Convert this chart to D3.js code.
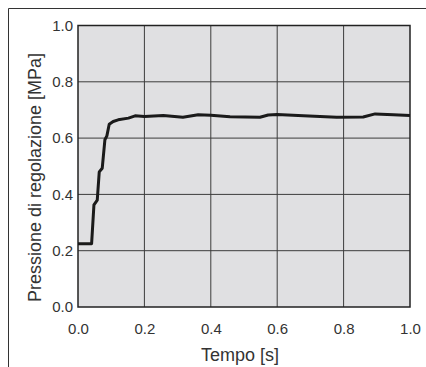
<!DOCTYPE html>
<html>
<head>
<meta charset="utf-8">
<script src="https://cdn.jsdelivr.net/npm/d3@7"></script>
<style>
  body { margin: 0; background: #fff; }
  svg { display: block; font-family: "Liberation Sans", Arial, sans-serif; }
</style>
</head>
<body>
<div id="chart"></div>
<script>
// time [s] and regulated pressure [MPa]
const tempo = [0, 0.041, 0.048, 0.058, 0.064, 0.073, 0.081, 0.087, 0.094, 0.106, 0.121, 0.152, 0.172,
  0.20, 0.257, 0.316, 0.362, 0.40, 0.458, 0.548, 0.573, 0.60, 0.679, 0.779, 0.859, 0.895, 0.95, 1.0];
const pressione = [0.225, 0.225, 0.363, 0.38, 0.48, 0.493, 0.594, 0.608, 0.649, 0.659, 0.665, 0.671, 0.679,
  0.677, 0.680, 0.674, 0.683, 0.681, 0.676, 0.674, 0.682, 0.684, 0.679, 0.674, 0.675, 0.686, 0.683, 0.680];
const xTicks = [0, 0.2, 0.4, 0.6, 0.8, 1.0];
const yTicks = [0, 0.2, 0.4, 0.6, 0.8, 1.0];

const W = 426, H = 367;
const margin = { top: 25.5, right: 16, bottom: 60, left: 78 };
const width = W - margin.left - margin.right;
const height = H - margin.top - margin.bottom;

const svg = d3.select("#chart").append("svg")
    .attr("width", W)
    .attr("height", H);

// outer frame (only top and left edges visible)
svg.append("path")
  .attr("d", `M8.5,${H} V8.5 H${W}`)
  .attr("fill", "none")
  .attr("stroke", "#333")
  .attr("stroke-width", 1);

const g = svg.append("g")
    .attr("transform", `translate(${margin.left},${margin.top})`);

const x = d3.scaleLinear().domain([0, 1]).range([0, width]);
const y = d3.scaleLinear().domain([0, 1]).range([height, 0]);

g.append("rect")
  .attr("width", width)
  .attr("height", height)
  .attr("fill", "#e0e0e2");

// grid
g.append("g")
  .selectAll("line")
  .data(xTicks.slice(1, -1))
  .join("line")
    .attr("x1", d => x(d)).attr("x2", d => x(d))
    .attr("y1", 0).attr("y2", height)
    .attr("stroke", "#3c3c3c").attr("stroke-width", 1);
g.append("g")
  .selectAll("line")
  .data(yTicks.slice(1, -1))
  .join("line")
    .attr("y1", d => y(d)).attr("y2", d => y(d))
    .attr("x1", 0).attr("x2", width)
    .attr("stroke", "#3c3c3c").attr("stroke-width", 1);

g.append("rect")
  .attr("width", width)
  .attr("height", height)
  .attr("fill", "none")
  .attr("stroke", "#222")
  .attr("stroke-width", 1.5);

// axes
const xAxis = g.append("g")
  .attr("transform", `translate(0,${height})`)
  .call(d3.axisBottom(x).tickValues(xTicks).tickFormat(d3.format(".1f")).tickSize(0).tickPadding(16));
const yAxis = g.append("g")
  .call(d3.axisLeft(y).tickValues(yTicks).tickFormat(d3.format(".1f")).tickSize(0).tickPadding(5));
[xAxis, yAxis].forEach(a => {
  a.select(".domain").remove();
  a.selectAll("text").attr("font-size", 15).attr("fill", "#333")
    .attr("font-family", "Liberation Sans, Arial, sans-serif");
});

// the curve
const data = tempo.map((t, i) => ({ t: t, v: pressione[i] }));
g.append("path")
  .datum(data)
  .attr("fill", "none")
  .attr("stroke", "#1a1a1a")
  .attr("stroke-width", 3)
  .attr("stroke-linejoin", "round")
  .attr("d", d3.line().x(d => x(d.t)).y(d => y(d.v)));

// axis titles
svg.append("text")
  .attr("x", 240)
  .attr("y", 361)
  .attr("text-anchor", "middle")
  .attr("font-size", 18)
  .attr("fill", "#333")
  .text("Tempo [s]");

svg.append("text")
  .attr("transform", "translate(41,177.5) rotate(-90)")
  .attr("text-anchor", "middle")
  .attr("font-size", 18)
  .attr("fill", "#333")
  .text("Pressione di regolazione [MPa]");
</script>
</body>
</html>
